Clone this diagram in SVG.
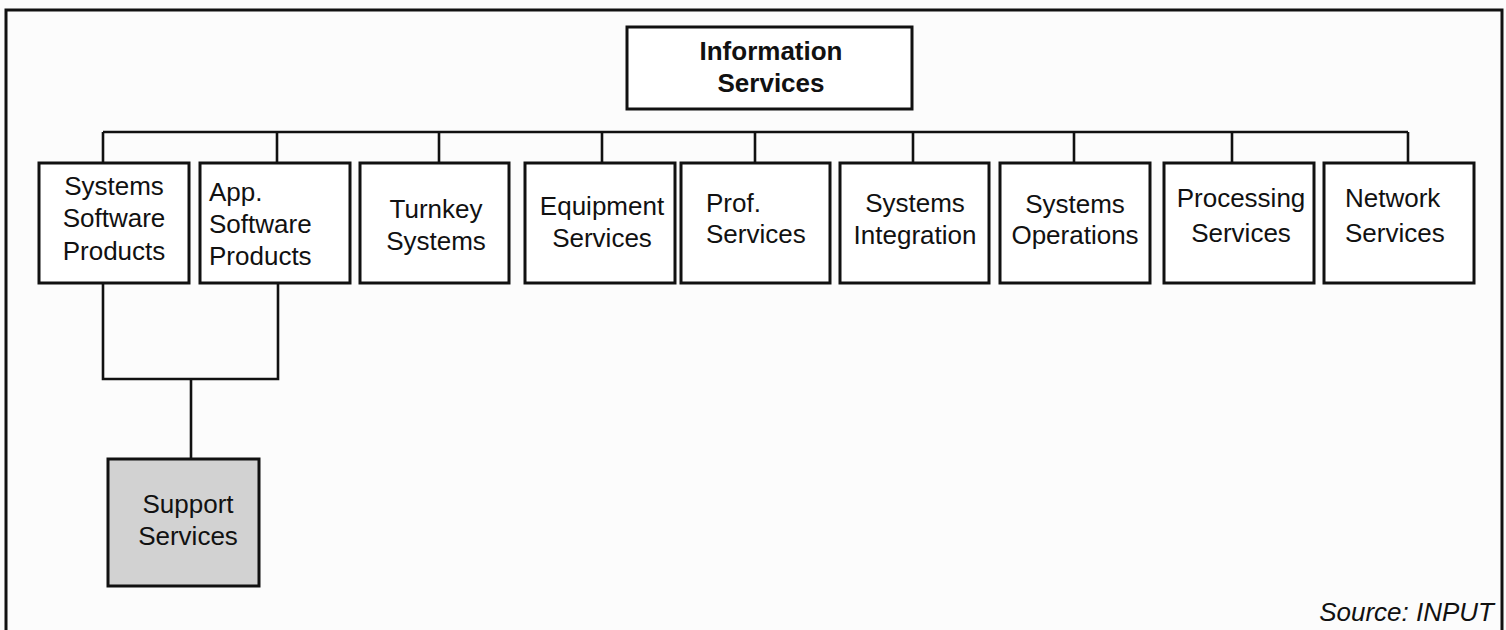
<svg xmlns="http://www.w3.org/2000/svg" width="1506" height="630" viewBox="0 0 1506 630">
  <style>
    .box { fill: #ffffff; stroke: #111111; stroke-width: 3; }
    .shaded { fill: #d2d2d2; stroke: #111111; stroke-width: 3; }
    .wire { fill: none; stroke: #111111; stroke-width: 2.6; }
    .lbl { font-family: "Liberation Sans", Arial, sans-serif; font-size: 26px; fill: #111111; }
    .mid { text-anchor: middle; }
    .bold { font-weight: bold; }
    .note { font-family: "Liberation Sans", Arial, sans-serif; font-size: 26px; font-style: italic; fill: #111111; text-anchor: end; }
  </style>

  <rect x="0" y="0" width="1506" height="630" fill="#fcfcfc"/>

  <!-- outer frame, open at the bottom -->
  <path d="M6,640 V10 H1502 V640" fill="none" stroke="#111111" stroke-width="3"/>

  <g id="connectors">
    <!-- bus under the top box -->
    <path class="wire" d="M103,132 H1408"/>
    <path class="wire" d="M103,132 V163 M277,132 V163 M439,132 V163 M602,132 V163 M755,132 V163 M913,132 V163 M1074,132 V163 M1232,132 V163 M1408,132 V163"/>
    <!-- software products joined to support services -->
    <path class="wire" d="M103,283 V379 H278 V283"/>
    <path class="wire" d="M191,379 V459"/>
  </g>

  <g id="information-services">
    <rect class="box" x="627" y="27" width="285" height="82"/>
    <text class="lbl bold mid" x="771" y="60">Information</text>
    <text class="lbl bold mid" x="771" y="92">Services</text>
  </g>

  <g id="systems-software-products">
    <rect class="box" x="39" y="163" width="150" height="120"/>
    <text class="lbl mid" x="114" y="195">Systems</text>
    <text class="lbl mid" x="114" y="227">Software</text>
    <text class="lbl mid" x="114" y="260">Products</text>
  </g>

  <g id="app-software-products">
    <rect class="box" x="200" y="163" width="150" height="120"/>
    <text class="lbl" x="209" y="201">App.</text>
    <text class="lbl" x="209" y="233">Software</text>
    <text class="lbl" x="209" y="265">Products</text>
  </g>

  <g id="turnkey-systems">
    <rect class="box" x="360" y="163" width="149" height="120"/>
    <text class="lbl mid" x="436" y="218">Turnkey</text>
    <text class="lbl mid" x="436" y="250">Systems</text>
  </g>

  <g id="equipment-services">
    <rect class="box" x="525" y="163" width="150" height="120"/>
    <text class="lbl mid" x="602" y="215">Equipment</text>
    <text class="lbl mid" x="602" y="247">Services</text>
  </g>

  <g id="prof-services">
    <rect class="box" x="681" y="163" width="149" height="120"/>
    <text class="lbl" x="706" y="212">Prof.</text>
    <text class="lbl" x="706" y="243">Services</text>
  </g>

  <g id="systems-integration">
    <rect class="box" x="840" y="163" width="149" height="120"/>
    <text class="lbl mid" x="915" y="212">Systems</text>
    <text class="lbl mid" x="915" y="244">Integration</text>
  </g>

  <g id="systems-operations">
    <rect class="box" x="1000" y="163" width="150" height="120"/>
    <text class="lbl mid" x="1075" y="213">Systems</text>
    <text class="lbl mid" x="1075" y="244">Operations</text>
  </g>

  <g id="processing-services">
    <rect class="box" x="1164" y="163" width="150" height="120"/>
    <text class="lbl mid" x="1241" y="207">Processing</text>
    <text class="lbl mid" x="1241" y="242">Services</text>
  </g>

  <g id="network-services">
    <rect class="box" x="1324" y="163" width="150" height="120"/>
    <text class="lbl" x="1345" y="207">Network</text>
    <text class="lbl" x="1345" y="242">Services</text>
  </g>

  <g id="support-services">
    <rect class="shaded" x="108" y="459" width="151" height="127"/>
    <text class="lbl mid" x="188" y="513">Support</text>
    <text class="lbl mid" x="188" y="545">Services</text>
  </g>

  <text class="note" x="1494" y="621">Source: INPUT</text>
</svg>
